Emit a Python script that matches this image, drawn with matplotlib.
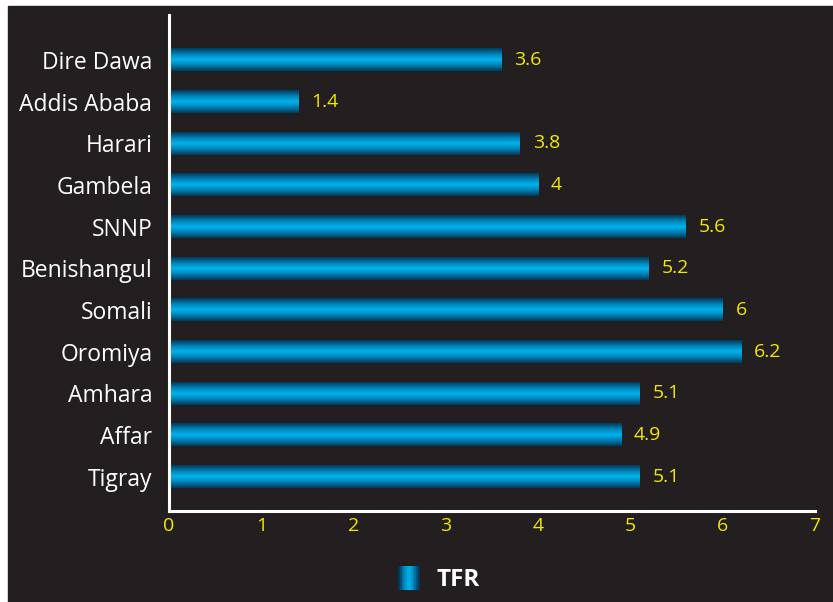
import numpy as np
import matplotlib
matplotlib.use('Agg')
import matplotlib.pyplot as plt
from matplotlib.legend_handler import HandlerBase
from matplotlib.patches import Rectangle, Patch
from matplotlib.colors import LinearSegmentedColormap

regions = ['Tigray', 'Affar', 'Amhara', 'Oromiya', 'Somali', 'Benishangul',
           'SNNP', 'Gambela', 'Harari', 'Addis Ababa', 'Dire Dawa']
tfr = [5.1, 4.9, 5.1, 6.2, 6.0, 5.2, 5.6, 4.0, 3.8, 1.4, 3.6]
value_labels = ['5.1', '4.9', '5.1', '6.2', '6', '5.2', '5.6', '4', '3.8', '1.4', '3.6']

bg = '#231f20'
yellow = '#f5e800'
plt.rcParams['font.family'] = ['Open Sans', 'DejaVu Sans']

# dark edge -> bright centre -> dark edge
cmap = LinearSegmentedColormap.from_list(
    'tube', ['#003a58', '#0080b4', '#00b4ee', '#0080b4', '#003a58'])
grad = np.linspace(0, 1, 64).reshape(-1, 1)

fig = plt.figure(figsize=(8.33, 6.02), dpi=100)
fig.patch.set_facecolor('white')
fig.patches.append(Rectangle((8 / 833, 0), 1 - 8 / 833, 1 - 6 / 602,
                             transform=fig.transFigure, color=bg, zorder=-10))
ax = fig.add_axes([169 / 833, 1 - 511 / 602, (815 - 169) / 833, (511 - 15) / 602])
ax.set_facecolor(bg)

h = 0.54
ypos = np.arange(len(regions))
for y, v, lab in zip(ypos, tfr, value_labels):
    ax.imshow(grad, cmap=cmap, aspect='auto', extent=[0, v, y - h / 2, y + h / 2],
              interpolation='bicubic', zorder=2)
    ax.text(v + 0.14, y, lab, color=yellow, fontsize=14, va='center', ha='left')

ax.set_xlim(0, 7)
ax.set_ylim(-0.82, 11.08)
ax.set_yticks(ypos)
ax.set_yticklabels(regions, color='white', fontsize=16.5)
ax.set_xticks(range(8))
ax.set_xticklabels([str(i) for i in range(8)], color=yellow, fontsize=14)
ax.tick_params(axis='both', length=0)
ax.tick_params(axis='y', pad=12)
ax.tick_params(axis='x', pad=4)
for s in ['top', 'right']:
    ax.spines[s].set_visible(False)
for s in ['left', 'bottom']:
    ax.spines[s].set_color('white')
    ax.spines[s].set_linewidth(2.2)


class GradHandler(HandlerBase):
    def create_artists(self, legend, orig_handle, xd, yd, width, height, fontsize, trans):
        arts = []
        n = 12
        cols = cmap(np.linspace(0, 1, n))
        w = width / n
        for i in range(n):
            arts.append(Rectangle((xd + i * w, yd - 3), w, height + 5,
                                  facecolor=cols[i], edgecolor='none', transform=trans))
        return arts


leg = fig.legend([Patch()], ['TFR'], handler_map={Patch: GradHandler()},
                 loc='center', bbox_to_anchor=(439 / 833, 1 - 580 / 602),
                 frameon=False, handlelength=0.9, handletextpad=0.7,
                 prop={'weight': 'bold', 'size': 17.5})
for t in leg.get_texts():
    t.set_color('white')

fig.savefig('out.png', dpi=100, facecolor=fig.get_facecolor())
